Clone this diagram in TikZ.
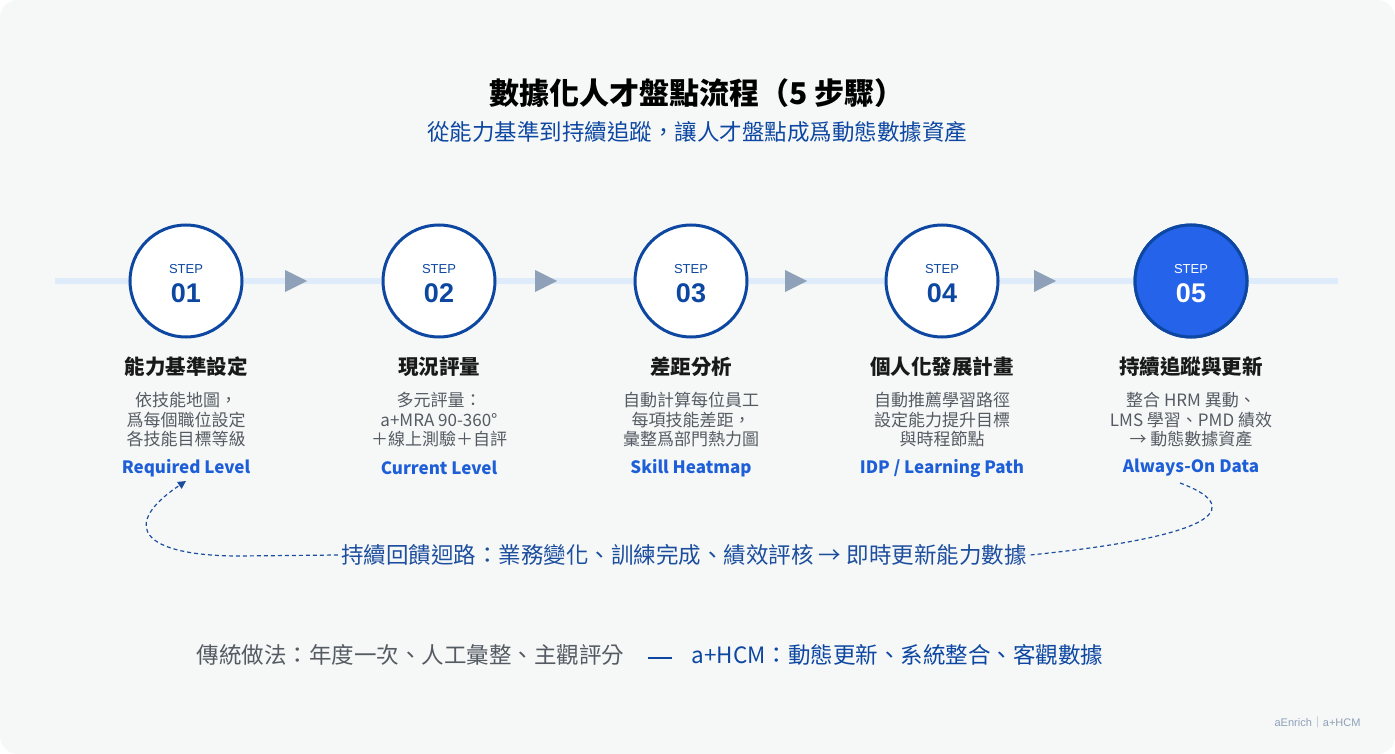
\documentclass[tikz,border=0pt]{standalone}
\usepackage{fontspec}
\setmainfont{Noto Sans CJK TC}
\newfontfamily\lat{Noto Sans CJK TC}
\newfontfamily\ar{Liberation Sans}
\usetikzlibrary{arrows.meta}
\definecolor{bg}{HTML}{F6F8F8}
\definecolor{dk}{HTML}{0D47A1}
\definecolor{bl}{HTML}{1E5FD8}
\definecolor{fill5}{HTML}{2563EB}
\definecolor{ln}{HTML}{DDEBFA}
\definecolor{tri}{HTML}{8FA1B8}
\definecolor{gr}{HTML}{555B62}
\definecolor{fb}{HTML}{1D4E9E}
\begin{document}
\begin{tikzpicture}[x=1pt,y=-1pt,
 circ/.style={circle,draw=dk,line width=3pt,fill=white,minimum size=112pt,inner sep=0pt},
 ttl/.style={font=\fontsize{20.5}{22}\selectfont\bfseries,text=black!90},
 desc/.style={font=\fontsize{17}{19.5}\selectfont,text=gr,align=center},
 eng/.style={font=\lat\fontsize{17}{18}\selectfont\bfseries,text=bl},
 arr/.style={fill=tri,draw=none}]
\useasboundingbox (0,0) rectangle (1395,754);
\fill[white] (0,0) rectangle (1395,754);
\fill[bg,rounded corners=18pt] (0,0) rectangle (1395,754);
\node[font=\fontsize{30}{32}\selectfont\bfseries] (t) at (697,93) {數據化人才盤點流程（5 步驟）};
\node[font=\fontsize{22.5}{24}\selectfont,text=dk] (st) at (697,132) {從能力基準到持續追蹤，讓人才盤點成爲動態數據資產};
\draw[ln,line width=6pt] (55,281) coordinate (l0) -- (1338,281) coordinate (l1);
\foreach \x in {296,546,796,1045}{\fill[arr] (\x-11,270)--(\x+11,281)--(\x-11,292)--cycle;}
\foreach \i/\x/\n/\a/\b/\c/\e in {
 1/186/能力基準設定/依技能地圖，/爲每個職位設定/各技能目標等級/Required Level,
 2/439/現況評量/多元評量：/a+MRA 90-360°/＋線上測驗＋自評/Current Level,
 3/691/差距分析/自動計算每位員工/每項技能差距，/彙整爲部門熱力圖/Skill Heatmap,
 4/942/個人化發展計畫/自動推薦學習路徑/設定能力提升目標/與時程節點/{IDP / Learning Path},
 5/1191/持續追蹤與更新/整合 HRM 異動、/LMS 學習、PMD 績效/→ 動態數據資產/Always-On Data}{
 \node[circ] (c\i) at (\x,281) {};
 \node[font=\ar\fontsize{13}{14}\selectfont,text=dk] (s\i) at (\x,269) {STEP};
 \node[font=\ar\fontsize{27}{28}\selectfont\bfseries,text=dk] (n\i) at (\x,293) {0\i};
 \node[ttl] (h\i) at (\x,367) {\n};
 \node[desc] (d\i) at (\x,420) {\a\\\b\\\c};
 \node[eng] (e\i) at (\x,468) {\e};
}
\fill[fill5,draw=dk,line width=3pt] (c5.center) circle (56);
\node[font=\ar\fontsize{13}{14}\selectfont,text=white] at (1191,269) {STEP};
\node[font=\ar\fontsize{27}{28}\selectfont\bfseries,text=white] at (1191,293) {05};
\node[font=\fontsize{22.5}{24}\selectfont,text=fb] (fbk) at (684,555) {持續回饋迴路：業務變化、訓練完成、績效評核 → 即時更新能力數據};
\draw[fb,line width=1.2pt,dash pattern=on 4pt off 3pt] (1180,483) .. controls (1240,505) and (1230,535) .. (fbk.east);
\draw[fb,line width=1.2pt,dash pattern=on 4pt off 3pt,-{Triangle[length=8pt,width=8pt]}] (fbk.west) -- (240,556) .. controls (140,556) and (120,525) .. (186,481);
\node[font=\fontsize{22.5}{24}\selectfont,text=gr,anchor=west] (old) at (193,655) {傳統做法：年度一次、人工彙整、主觀評分};
\draw[dk,line width=2pt] (648,658) coordinate (da) -- (672,658) coordinate (db);
\node[font=\fontsize{22.5}{24}\selectfont,text=dk,anchor=west] (new) at (688,655) {a+HCM：動態更新、系統整合、客觀數據};
\node[font=\fontsize{11}{12}\selectfont,text=tri,anchor=east] (ft) at (1364,722) {{\ar aEnrich}｜{\ar a+HCM}};
\end{tikzpicture}
\end{document}
